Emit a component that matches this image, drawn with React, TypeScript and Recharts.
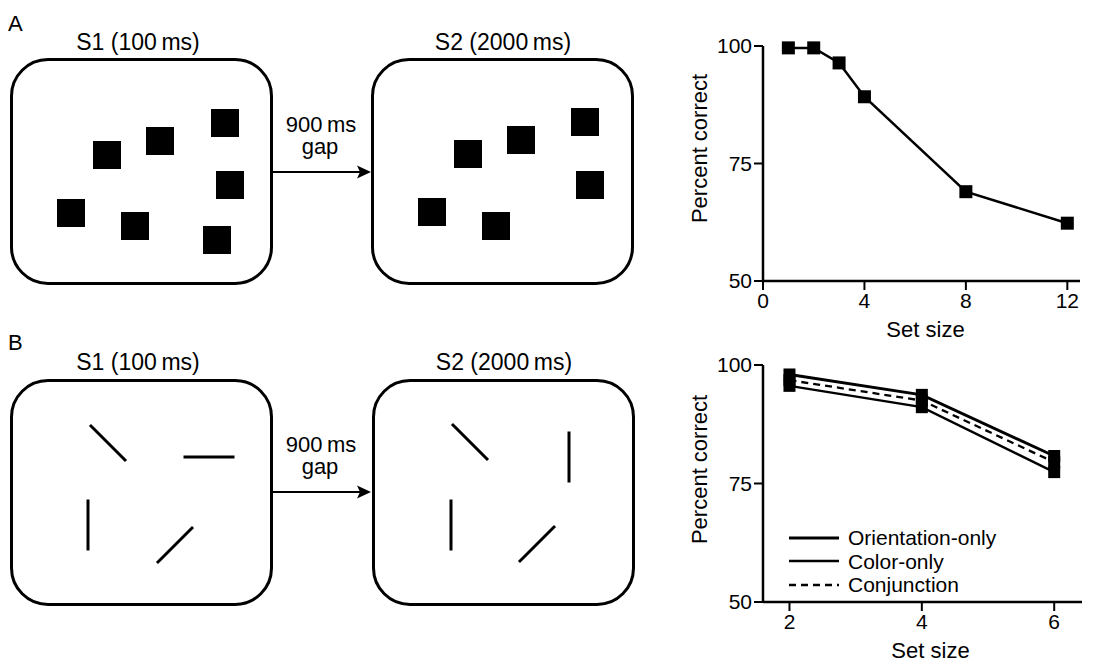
import React from 'react';
import { LineChart, Line, XAxis, YAxis, Legend, ScatterChart, Scatter } from 'recharts';

const FONT = '"Liberation Sans", Arial, Helvetica, sans-serif';

// A: single condition, percent correct by set size
const SET_SIZES_A = [1, 2, 3, 4, 8, 12];
const PERCENT_A = [99.6, 99.6, 96.4, 89.2, 69.0, 62.3];
const X_TICKS_A = [0, 4, 8, 12];

// B: three conditions
const SET_SIZES_B = [2, 4, 6];
const ORIENTATION_B = [98.0, 93.7, 80.8];
const COLOR_B = [95.6, 91.1, 77.4];
const CONJUNCTION_B = [96.8, 92.5, 79.5];
const X_TICKS_B = [2, 4, 6];
const Y_TICKS = [50, 75, 100];

// stimulus displays, item centres inside a 263 x 227 box
const SQUARES_S1_X = [97, 150, 215, 220, 61, 125, 207];
const SQUARES_S1_Y = [97, 83, 65, 127, 155, 168, 182];
const SQUARES_S2_X = [97, 150, 214, 219, 61, 125];
const SQUARES_S2_Y = [96, 82, 64, 127, 154, 168];

const BARS_S1_X = [98, 199, 78, 165];
const BARS_S1_Y = [64, 78, 146, 166];
const BARS_S1_ANGLE = [45, 0, 90, -45];
const BARS_S2_X = [98, 197, 79, 165];
const BARS_S2_Y = [63, 78, 146, 165];
const BARS_S2_ANGLE = [45, 90, 90, -45];

const SERIES_B = [
  { key: 'orientation', name: 'Orientation-only', width: 3, dash: undefined },
  { key: 'color', name: 'Color-only', width: 2.3, dash: undefined },
  { key: 'conjunction', name: 'Conjunction', width: 2.3, dash: '7 5' },
];

const dataA = SET_SIZES_A.map((s, i) => ({ setSize: s, pct: PERCENT_A[i] }));
const dataB = SET_SIZES_B.map((s, i) => ({
  setSize: s,
  orientation: ORIENTATION_B[i],
  color: COLOR_B[i],
  conjunction: CONJUNCTION_B[i],
}));

const BOX_W = 263;
const BOX_H = 227;

const AXIS_LINE = { stroke: '#000', strokeWidth: 2.5 };
const TICK_LINE = { stroke: '#000', strokeWidth: 2 };
const TICK = { fill: '#000', fontSize: 21, fontFamily: FONT };

const SquareDot = (props: any) => {
  const { cx, cy, size } = props;
  if (cx == null || cy == null) return null;
  return <rect x={cx - size / 2} y={cy - size / 2} width={size} height={size} fill='#000' />;
};

const XTitle = (props: any) => {
  const vb = props.viewBox;
  return (
    <text x={vb.x + vb.width / 2 + (props.dx || 0)} y={vb.y + 56} textAnchor='middle' fontSize={22} fill='#000' fontFamily={FONT}>
      Set size
    </text>
  );
};

const YTitle = (props: any) => {
  const vb = props.viewBox;
  const x = vb.x + 4;
  const y = vb.y + vb.height / 2 + (props.dy || 0);
  return (
    <text x={x} y={y} transform={`rotate(-90, ${x}, ${y})`} textAnchor='middle' fontSize={22} fill='#000' fontFamily={FONT}>
      Percent correct
    </text>
  );
};

// legend rows follow the series order, not recharts' sorted payload
const renderLegend = ({ payload }: any) => (
  <div style={{ fontSize: 21, fontFamily: FONT, color: '#000' }}>
    {SERIES_B.map((s) => {
      const entry = (payload || []).find((e: any) => e.dataKey === s.key);
      return (
        <div key={s.key} style={{ display: 'flex', alignItems: 'center', height: 23.5 }}>
          <svg width={50} height={10}>
            <line x1={0} x2={50} y1={5} y2={5} stroke='#000' strokeWidth={s.width} strokeDasharray={s.dash} />
          </svg>
          <span style={{ marginLeft: 9, lineHeight: '23px' }}>{entry ? entry.value : s.name}</span>
        </div>
      );
    })}
  </div>
);

function StimulusBox({ left, top, children }: any) {
  return (
    <div
      style={{
        position: 'absolute',
        left,
        top,
        width: BOX_W,
        height: BOX_H,
        boxSizing: 'border-box',
        border: '3px solid #000',
        borderRadius: 38,
      }}>
      <div style={{ position: 'absolute', left: -3, top: -3 }}>{children}</div>
    </div>
  );
}

function SquareDisplay({ xs, ys }: any) {
  const data = xs.map((x: number, i: number) => ({ x, y: ys[i] }));
  return (
    <ScatterChart width={BOX_W} height={BOX_H} margin={{ top: 0, right: 0, bottom: 0, left: 0 }}>
      <XAxis type='number' dataKey='x' domain={[0, BOX_W]} hide />
      <YAxis type='number' dataKey='y' domain={[0, BOX_H]} reversed hide />
      <Scatter
        data={data}
        isAnimationActive={false}
        shape={(p: any) => <rect x={p.cx - 14} y={p.cy - 14} width={28} height={28} fill='#000' />}
      />
    </ScatterChart>
  );
}

function BarDisplay({ xs, ys, angles }: any) {
  const data = xs.map((x: number, i: number) => ({ x, y: ys[i], angle: angles[i] }));
  return (
    <ScatterChart width={BOX_W} height={BOX_H} margin={{ top: 0, right: 0, bottom: 0, left: 0 }}>
      <XAxis type='number' dataKey='x' domain={[0, BOX_W]} hide />
      <YAxis type='number' dataKey='y' domain={[0, BOX_H]} reversed hide />
      <Scatter
        data={data}
        isAnimationActive={false}
        shape={(p: any) => {
          const a = (p.payload.angle * Math.PI) / 180;
          const dx = Math.cos(a) * 25.5;
          const dy = Math.sin(a) * 25.5;
          return <line x1={p.cx - dx} y1={p.cy - dy} x2={p.cx + dx} y2={p.cy + dy} stroke='#000' strokeWidth={3} />;
        }}
      />
    </ScatterChart>
  );
}

function Arrow({ y }: { y: number }) {
  return (
    <g>
      <line x1={273} x2={362} y1={y} y2={y} stroke='#000' strokeWidth={2} />
      <polygon points={`371,${y} 357,${y - 6.5} 360,${y} 357,${y + 6.5}`} fill='#000' />
    </g>
  );
}

export default function App() {
  return (
    <div
      style={{
        position: 'absolute',
        left: 0,
        top: 0,
        width: 1093,
        height: 666,
        background: '#fff',
        overflow: 'hidden',
        fontFamily: FONT,
      }}>
      <svg width={1093} height={666} style={{ position: 'absolute', left: 0, top: 0 }} fontFamily={FONT} fill='#000'>
        <text x={8} y={31} fontSize={22}>A</text>
        <text x={8} y={350} fontSize={22}>B</text>
        <text x={138} y={50} fontSize={23} textAnchor='middle'>S1 (100{'\u2009'}ms)</text>
        <text x={503} y={50} fontSize={23} textAnchor='middle'>S2 (2000{'\u2009'}ms)</text>
        <text x={138} y={370} fontSize={23} textAnchor='middle'>S1 (100{'\u2009'}ms)</text>
        <text x={504} y={370} fontSize={23} textAnchor='middle'>S2 (2000{'\u2009'}ms)</text>
        <text x={321} y={132} fontSize={22} textAnchor='middle'>900{'\u2009'}ms</text>
        <text x={320} y={154} fontSize={22} textAnchor='middle'>gap</text>
        <text x={321} y={452} fontSize={22} textAnchor='middle'>900{'\u2009'}ms</text>
        <text x={320} y={474} fontSize={22} textAnchor='middle'>gap</text>
        <Arrow y={172} />
        <Arrow y={492} />
      </svg>

      <StimulusBox left={10} top={58}>
        <SquareDisplay xs={SQUARES_S1_X} ys={SQUARES_S1_Y} />
      </StimulusBox>
      <StimulusBox left={371} top={58}>
        <SquareDisplay xs={SQUARES_S2_X} ys={SQUARES_S2_Y} />
      </StimulusBox>
      <StimulusBox left={10} top={379}>
        <BarDisplay xs={BARS_S1_X} ys={BARS_S1_Y} angles={BARS_S1_ANGLE} />
      </StimulusBox>
      <StimulusBox left={372} top={379}>
        <BarDisplay xs={BARS_S2_X} ys={BARS_S2_Y} angles={BARS_S2_ANGLE} />
      </StimulusBox>

      {/* A: percent correct vs set size */}
      <div style={{ position: 'absolute', left: 676, top: 0 }}>
        <LineChart width={417} height={346} data={dataA} margin={{ top: 46, right: 13, bottom: 0, left: 27 }}>
          <XAxis
            type='number'
            dataKey='setSize'
            domain={[0, 12.5]}
            ticks={X_TICKS_A}
            height={65}
            axisLine={AXIS_LINE}
            tickLine={TICK_LINE}
            tickSize={9}
            tickMargin={3}
            tick={TICK}
            allowDataOverflow
            label={<XTitle dx={4} />}
          />
          <YAxis
            type='number'
            domain={[50, 100]}
            ticks={Y_TICKS}
            width={60}
            axisLine={AXIS_LINE}
            tickLine={TICK_LINE}
            tickSize={9}
            tickMargin={2}
            tick={TICK}
            label={<YTitle dy={-15} />}
          />
          <Line
            dataKey='pct'
            stroke='#000'
            strokeWidth={2.5}
            dot={(p: any) => <SquareDot key={p.index} cx={p.cx} cy={p.cy} size={13} />}
            activeDot={false}
            isAnimationActive={false}
          />
        </LineChart>
      </div>

      {/* B: three conditions */}
      <div style={{ position: 'absolute', left: 676, top: 346 }}>
        <LineChart width={417} height={320} data={dataB} margin={{ top: 19, right: 11, bottom: 0, left: 27 }}>
          <XAxis
            type='number'
            dataKey='setSize'
            domain={[1.6, 6.42]}
            ticks={X_TICKS_B}
            height={64}
            axisLine={AXIS_LINE}
            tickLine={TICK_LINE}
            tickSize={9}
            tickMargin={3}
            tick={TICK}
            allowDataOverflow
            label={<XTitle dx={8} />}
          />
          <YAxis
            type='number'
            domain={[50, 100]}
            ticks={Y_TICKS}
            width={60}
            axisLine={AXIS_LINE}
            tickLine={TICK_LINE}
            tickSize={9}
            tickMargin={2}
            tick={TICK}
            label={<YTitle dy={-14} />}
          />
          <Legend
            layout='vertical'
            align='center'
            verticalAlign='middle'
            content={renderLegend}
            wrapperStyle={{ left: 113, top: 180, width: 260, height: 72 }}
          />
          {SERIES_B.map((s) => (
            <Line
              key={s.key}
              dataKey={s.key}
              name={s.name}
              stroke='#000'
              strokeWidth={s.width}
              strokeDasharray={s.dash}
              dot={(p: any) => <SquareDot key={p.index} cx={p.cx} cy={p.cy} size={12} />}
              activeDot={false}
              isAnimationActive={false}
            />
          ))}
        </LineChart>
      </div>
    </div>
  );
}
